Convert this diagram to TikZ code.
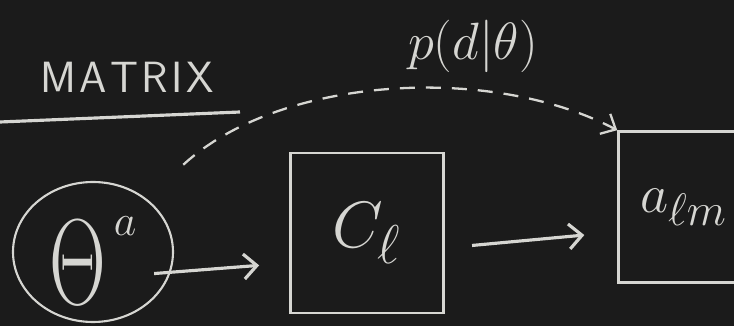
\documentclass[tikz,border=0pt]{standalone}
\usetikzlibrary{arrows.meta,shapes.geometric,positioning}
\definecolor{board}{RGB}{27,27,27}
\definecolor{chalk}{RGB}{214,214,210}

\begin{document}
\begin{tikzpicture}[
  node distance=23mm,
  line width=1.5pt, draw=chalk, text=chalk,
  blob/.style={ellipse,draw=chalk,line width=1.2pt,minimum width=32mm,minimum height=28mm,inner sep=0pt},
  box/.style={rectangle,draw=chalk,minimum width=30.6mm,minimum height=32mm,align=center},
  boardtext/.style={text=chalk,font=\Huge},
  arrow/.style={-{Straight Barb[length=2.6mm,width=5mm]},draw=chalk,line width=1.8pt},
  dasharrow/.style={-{Straight Barb[length=2.4mm,width=4.5mm]},draw=chalk,dashed,dash pattern=on 3mm off 2.2mm,line width=1.3pt}
]
\fill[board] (0,0) rectangle (14.68,6.52);
\clip (0,0) rectangle (14.68,6.52);

\node[blob] (theta) at (1.86,1.48) {\smash{\makebox[0pt]{\Huge\raisebox{-10.5mm}{\scalebox{1.8}[2.8]{$\Theta$}}\hspace{1.5mm}\raisebox{3.2mm}{$a$}}}};
\node[box,right=of theta,yshift=3.8mm] (cl) {\Huge\scalebox{1.5}{$C_\ell$}};
\node[box,right=34.5mm of cl,yshift=5.2mm,minimum height=30.2mm,minimum width=26mm] (alm) {\Huge\scalebox{1.25}{$a_{\ell m}$}};
\node[boardtext,font=\Huge\sffamily] (title) at (2.54,4.98) {M\kern2ptA\kern2ptT\kern2ptR\kern2ptI\kern2ptX};
\node[boardtext] (like) at (9.46,5.6) {\scalebox{1.2}{$p(d|\theta)$}};
\coordinate (ruleL) at (0,4.08);
\coordinate (ruleR) at (4.8,4.28);

\draw[line width=1.8pt] (ruleL) -- (ruleR);
\draw[arrow,shorten <=-4mm,shorten >=6mm] ([yshift=-4mm]theta.east) -- ([yshift=-6mm]cl.west);
\draw[arrow,shorten <=5.5mm,shorten >=6.6mm] ([yshift=-3mm]cl.east) -- ([yshift=-5mm]alm.west);
\draw[dasharrow,shorten <=1cm] (theta.45) .. controls (5.6,5.0) and (9.8,5.25) .. (alm.north west);
\end{tikzpicture}
\end{document}
